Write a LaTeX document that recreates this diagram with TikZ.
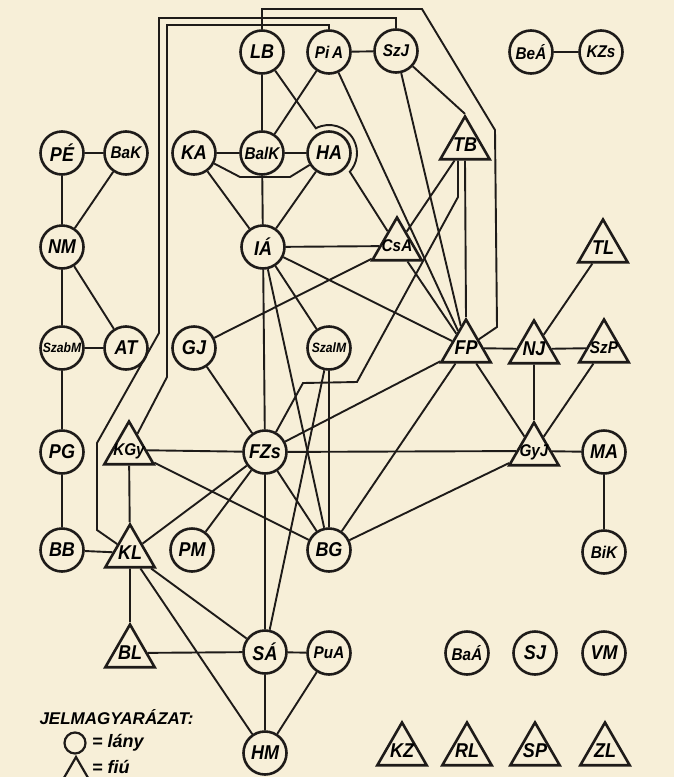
\documentclass[tikz,border=0pt]{standalone}
\usepackage{fontspec}
\newfontfamily\lblfont{Liberation Sans}[FakeStretch=0.9]
\newfontfamily\keyfont{Liberation Sans}
\usetikzlibrary{shapes.geometric}
\usetikzlibrary{calc}
\usetikzlibrary{positioning}
\definecolor{paper}{RGB}{247,239,216}
\definecolor{ink}{RGB}{30,27,25}
\newcommand{\lbl}{\lblfont\bfseries\itshape\fontsize{20}{20}\selectfont}
\newcommand{\nmtxt}[1]{\makebox[0pt]{\raisebox{-.5\height}[0pt][0pt]{#1}}}

\begin{document}
\begin{tikzpicture}[x=1pt,y=-1pt,
  girl/.style={circle,draw=ink,line width=2.6pt,fill=paper,minimum size=43pt,inner sep=0pt,font=\lbl},
  boy/.style={regular polygon,regular polygon sides=3,draw=ink,line width=2.6pt,fill=paper,minimum size=57pt,inner sep=0pt,font=\lbl},
  tie/.style={draw=ink,line width=1.9pt},
  small/.style={font=\lblfont\bfseries\itshape\fontsize{17}{17}\selectfont},
  tiny/.style={font=\lblfont\bfseries\itshape\fontsize{13.5}{14}\selectfont}]
\useasboundingbox (0,0) rectangle (674,777);
\fill[paper] (0,0) rectangle (674,777);

% girls and boys, row by row
\node[girl] (LB) at (262,52) {\nmtxt{LB}};
\node[girl,small] (PiA) at (329,52) {\nmtxt{Pi\,A}};
\node[girl,small] (SzJ) at (396,51) {\nmtxt{SzJ}};
\node[girl,small] (BeA) at (531,52) {\nmtxt{BeÁ}};
\node[girl,small] (KZs) at (601,52) {\nmtxt{KZs}};
\node[girl] (PE) at (62,153) {\nmtxt{PÉ}};
\node[girl,small] (BaK) at (126,153) {\nmtxt{BaK}};
\node[girl] (KA) at (194,153) {\nmtxt{KA}};
\node[girl,small] (BalK) at (262,153) {\nmtxt{BalK}};
\node[girl] (HA) at (329,153) {\nmtxt{HA}};
\node[boy] (TB) at (465,145) {\nmtxt{TB}};
\node[girl] (NM) at (62,247) {\nmtxt{NM}};
\node[girl] (IA) at (263,247) {\nmtxt{IÁ}};
\node[boy,small] (CsA) at (397,246) {\nmtxt{CsA}};
\node[boy] (TL) at (603,248) {\nmtxt{TL}};
\node[girl,tiny] (SzabM) at (62,348) {\nmtxt{SzabM}};
\node[girl] (AT) at (126,348) {\nmtxt{AT}};
\node[girl] (GJ) at (194,348) {\nmtxt{GJ}};
\node[girl,tiny] (SzalM) at (329,348) {\nmtxt{SzalM}};
\node[boy] (FP) at (466,348) {\nmtxt{FP}};
\node[boy] (NJ) at (534,349) {\nmtxt{NJ}};
\node[boy,small] (SzP) at (604,348) {\nmtxt{SzP}};
\node[girl] (PG) at (62,452) {\nmtxt{PG}};
\node[boy,small] (KGy) at (129,450) {\nmtxt{KGy}};
\node[girl] (FZs) at (265,452) {\nmtxt{FZs}};
\node[boy,small] (GyJ) at (534,451) {\nmtxt{GyJ}};
\node[girl] (MA) at (604,452) {\nmtxt{MA}};
\node[girl] (BB) at (62,550) {\nmtxt{BB}};
\node[boy] (KL) at (130,553) {\nmtxt{KL}};
\node[girl] (PM) at (192,550) {\nmtxt{PM}};
\node[girl] (BG) at (329,550) {\nmtxt{BG}};
\node[girl,small] (BiK) at (604,552) {\nmtxt{BiK}};
\node[boy] (BL) at (130,653) {\nmtxt{BL}};
\node[girl] (SA) at (265,652) {\nmtxt{SÁ}};
\node[girl,small] (PuA) at (329,653) {\nmtxt{PuA}};
\node[girl,small] (BaA) at (467,653) {\nmtxt{BaÁ}};
\node[girl] (SJ) at (535,653) {\nmtxt{SJ}};
\node[girl] (VM) at (604,653) {\nmtxt{VM}};
\node[girl] (HM) at (265,753) {\nmtxt{HM}};
\node[boy] (KZ) at (402,751) {\nmtxt{KZ}};
\node[boy] (RL) at (467,751) {\nmtxt{RL}};
\node[boy] (SP) at (535,751) {\nmtxt{SP}};
\node[boy] (ZL) at (605,751) {\nmtxt{ZL}};

% mutual choices
\draw[tie] (PE)--(BaK) (PE)--(NM) (BaK)--(NM) (NM)--(SzabM) (NM)--(AT) (SzabM)--(AT)
  (SzabM)--(PG) (PG)--(BB) (BB)--(KL) (BeA)--(KZs);
\draw[tie] (KA)--(BalK) (BalK)--(HA) (LB)--(BalK) (PiA)--(BalK) (PiA)--(SzJ)
  (KA)--(IA) (BalK)--(IA) (HA)--(IA);
\draw[tie] (PiA)--(FP) (SzJ)--(FP) (SzJ)--(TB.north) (CsA)--(TB) (CsA)--(FP) (TB.south)--(FP.north);
\draw[tie] (IA)--(CsA) (IA)--(FP) (IA)--(SzalM) (IA)--(FZs) (IA)--(BG) (GJ)--(CsA) (GJ)--(FZs);
\draw[tie] (KGy)--(FZs) (KGy)--(KL) (KGy)--(BG) (FZs)--(KL) (FZs)--(PM) (FZs)--(SA)
  (FZs)--(BG) (FZs)--(FP) (FZs)--(GyJ) (SzalM)--(BG) (SzalM)--(SA);
\draw[tie] (FP)--(BG) (FP)--(GyJ) (FP)--(NJ) (NJ)--(SzP) (NJ)--(TL) (NJ)--(GyJ)
  (SzP)--(GyJ) (GyJ)--(MA) (MA)--(BiK) (GyJ)--(BG);
\draw[tie] (KL)--(BL) (KL)--(SA) (KL)--(HM) (BL)--(SA) (SA)--(PuA) (SA)--(HM) (PuA)--(HM);

% bent ones
\draw[tie] (KA) -- (240,177) -- (290,177) -- (HA);
\draw[tie] (LB) -- ($(HA)+(118:28pt)$) arc[start angle=118,end angle=-42,radius=28pt] -- (CsA);
\draw[tie] (LB.north) |- (422,9) -- (495,130) -- (497,327) -- (FP);
\draw[tie] (SzJ.north) |- (159,18) -- (159,333) -- (97,443) -- (97,530) -- (KL);
\draw[tie] (PiA.north) |- (167,25) -- (167,377) -- (KGy);
\draw[tie] (FZs) -- (303,383) -- (357,382) -- (458,197) -- (TB.south -| 458,0);

% legend
\node[anchor=west,font=\keyfont\bfseries\itshape\fontsize{17}{17}\selectfont] (key) at (36,717) {JELMAGYARÁZAT:};
\node[circle,draw=ink,line width=2.2pt,minimum size=21pt,inner sep=0pt] (keygirl) at (75,743) {};
\node[right=2pt of keygirl,font=\keyfont\bfseries\itshape\fontsize{18}{18}\selectfont] (keygirltxt) {= lány};
\node[regular polygon,regular polygon sides=3,draw=ink,line width=2.2pt,minimum size=30pt,inner sep=0pt] (keyboy) at (76,772) {};
\node[font=\keyfont\bfseries\itshape\fontsize{18}{18}\selectfont,anchor=west] (keyboytxt) at (keygirltxt.west |- 0,767) {= fiú};
\end{tikzpicture}
\end{document}
